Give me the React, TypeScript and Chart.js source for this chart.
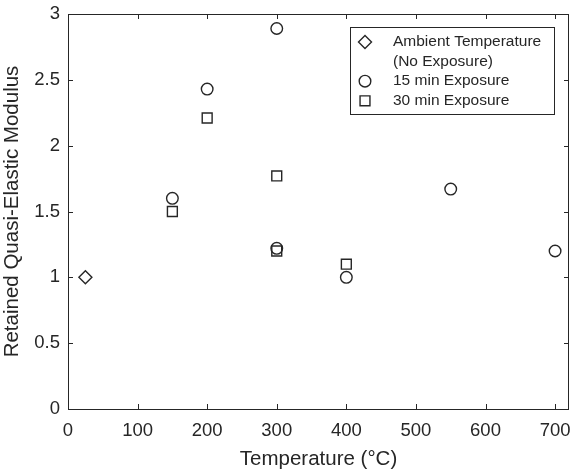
import React, { useEffect, useRef } from 'react';
import { Chart, registerables } from 'chart.js';
import { drawPoint } from 'chart.js/helpers';

Chart.register(...registerables);

// Retained quasi-elastic modulus versus exposure temperature
const ambientTemp = [25];
const ambientModulus = [1.0];

const temp15 = [150, 200, 300, 300, 400, 550, 700];
const modulus15 = [1.6, 2.43, 2.89, 1.22, 1.0, 1.67, 1.2];

const temp30 = [150, 200, 300, 300, 400];
const modulus30 = [1.5, 2.21, 1.77, 1.2, 1.1];

const xTicks = [0, 100, 200, 300, 400, 500, 600, 700];
const yTicks = [0, 0.5, 1, 1.5, 2, 2.5, 3];

const seriesLabels = [
  ['Ambient Temperature', '(No Exposure)'],
  ['15 min Exposure'],
  ['30 min Exposure'],
];

const INK = '#262626';
const FONT = "'Liberation Sans', Arial, Helvetica, sans-serif";

const toPoints = (xs: number[], ys: number[]) => xs.map((x, i) => ({ x, y: ys[i] }));

// Box around the axes with inward tick marks on all four sides
const frameTicks = {
  id: 'frameTicks',
  afterDatasetsDraw(chart: any) {
    const { ctx, chartArea: a, scales } = chart;
    const len = 5;
    ctx.save();
    ctx.strokeStyle = INK;
    ctx.lineWidth = 1;
    ctx.beginPath();
    xTicks.forEach((v) => {
      const px = Math.round(scales.x.getPixelForValue(v)) + 0.5;
      ctx.moveTo(px, a.bottom);
      ctx.lineTo(px, a.bottom - len);
      ctx.moveTo(px, a.top);
      ctx.lineTo(px, a.top + len);
    });
    yTicks.forEach((v) => {
      const py = Math.round(scales.y.getPixelForValue(v)) + 0.5;
      ctx.moveTo(a.left, py);
      ctx.lineTo(a.left + len, py);
      ctx.moveTo(a.right, py);
      ctx.lineTo(a.right - len, py);
    });
    ctx.stroke();
    ctx.strokeRect(Math.round(a.left) + 0.5, Math.round(a.top) + 0.5,
      Math.round(a.right - a.left) - 1, Math.round(a.bottom - a.top));
    ctx.restore();
  },
};

// Boxed legend with a two-line first entry
const boxLegend = {
  id: 'boxLegend',
  afterDraw(chart: any) {
    const { ctx, chartArea: a } = chart;
    const boxW = 204;
    const boxH = 87;
    const left = a.right - 15 - boxW;
    const top = a.top + 13;
    const rowH = 19.6;
    ctx.save();
    ctx.fillStyle = '#ffffff';
    ctx.fillRect(left, top, boxW, boxH);
    ctx.strokeStyle = INK;
    ctx.lineWidth = 1;
    ctx.strokeRect(Math.round(left) + 0.5, Math.round(top) + 0.5, boxW, boxH);
    ctx.font = `15.5px ${FONT}`;
    ctx.textBaseline = 'middle';
    ctx.textAlign = 'left';
    let row = 0;
    chart.data.datasets.forEach((ds: any, i: number) => {
      const cy = top + 15 + row * rowH;
      ctx.strokeStyle = INK;
      ctx.fillStyle = 'rgba(0,0,0,0)';
      ctx.lineWidth = 1.4;
      drawPoint(ctx, { pointStyle: ds.pointStyle, radius: ds.pointRadius, rotation: 0, borderWidth: 1.4 }, left + 15, cy);
      ctx.fillStyle = INK;
      seriesLabels[i].forEach((line, k) => {
        ctx.fillText(line, left + 43, top + 15 + (row + k) * rowH);
      });
      row += seriesLabels[i].length;
    });
    ctx.restore();
  },
};

export default function App() {
  const canvasRef = useRef<HTMLCanvasElement | null>(null);

  useEffect(() => {
    document.body.style.margin = '0';
    const canvas = canvasRef.current;
    if (!canvas) return;
    const marker = { backgroundColor: 'rgba(0,0,0,0)', borderColor: INK, borderWidth: 1.4, showLine: false };
    const chart = new Chart(canvas, {
      type: 'scatter',
      data: {
        datasets: [
          { label: seriesLabels[0].join(' '), data: toPoints(ambientTemp, ambientModulus), pointStyle: 'rectRot', pointRadius: 6.5, ...marker },
          { label: seriesLabels[1].join(' '), data: toPoints(temp15, modulus15), pointStyle: 'circle', pointRadius: 5.8, ...marker },
          { label: seriesLabels[2].join(' '), data: toPoints(temp30, modulus30), pointStyle: 'rect', pointRadius: 7, ...marker },
        ],
      },
      options: {
        responsive: false,
        animation: false,
        devicePixelRatio: 1,
        layout: { autoPadding: false, padding: { top: 14, right: 2, left: 0, bottom: 0 } },
        plugins: { legend: { display: false }, tooltip: { enabled: false } },
        scales: {
          x: {
            type: 'linear',
            min: 0,
            max: 720,
            afterBuildTicks: (s: any) => { s.ticks = xTicks.map((value) => ({ value })); },
            afterFit: (s: any) => { s.height = 63; s.paddingLeft = 0; s.paddingRight = 0; },
            grid: { display: false, drawTicks: false },
            border: { display: false },
            ticks: { color: INK, font: { family: FONT, size: 18.5 }, padding: 11, maxRotation: 0, callback: (v: any) => String(v) },
            title: { display: true, text: 'Temperature (°C)', color: INK, font: { family: FONT, size: 20.5 }, padding: { top: 0, bottom: 0 } },
          },
          y: {
            type: 'linear',
            min: 0,
            max: 3,
            afterBuildTicks: (s: any) => { s.ticks = yTicks.map((value) => ({ value })); },
            afterFit: (s: any) => { s.width = 68; s.paddingTop = 0; s.paddingBottom = 0; },
            grid: { display: false, drawTicks: false },
            border: { display: false },
            ticks: { color: INK, font: { family: FONT, size: 18.5 }, padding: 8, callback: (v: any) => String(v) },
            title: { display: true, text: 'Retained Quasi-Elastic Modulus', color: INK, font: { family: FONT, size: 20.5 }, padding: { top: 0, bottom: 0 } },
          },
        },
      },
      plugins: [frameTicks, boxLegend],
    });
    return () => chart.destroy();
  }, []);

  return <canvas ref={canvasRef} width={571} height={472} />;
}
